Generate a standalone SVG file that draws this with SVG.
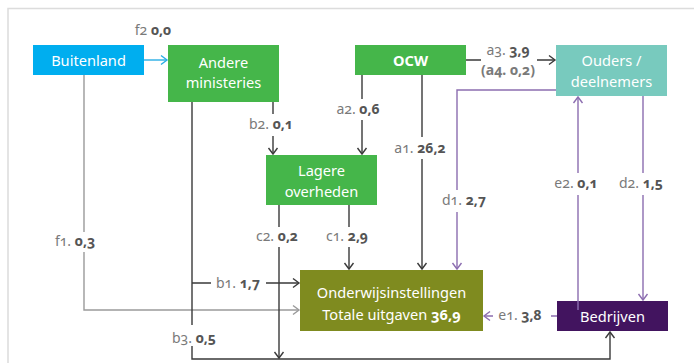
<svg xmlns="http://www.w3.org/2000/svg" width="694" height="363" viewBox="0 0 694 363">
<defs>
<style>
.frame{fill:none;stroke:#dcdcdc;stroke-width:1.5}
.n{font-family:"Noto Sans","Open Sans",sans-serif;font-size:14.6px;text-anchor:middle;fill:#fff;font-variant-numeric:oldstyle-nums}
.lb{font-family:"Noto Sans","Open Sans",sans-serif;font-size:14px;fill:#7a7a7a;text-anchor:middle;font-variant-numeric:oldstyle-nums}
.lb tspan.v{font-weight:bold;fill:#555}
.dk{fill:none;stroke:#3a3a3a;stroke-width:1.4}
.gr{fill:none;stroke:#9a9a9a;stroke-width:1.4}
.bl{fill:none;stroke:#29aee6;stroke-width:1.4}
.pu{fill:none;stroke:#8c6db0;stroke-width:1.4}
</style>
<marker id="mdk" viewBox="-8 -6 10 12" markerWidth="10" markerHeight="12" refX="0" refY="0" orient="auto" markerUnits="userSpaceOnUse"><path d="M-6,-4.5 L0,0 L-6,4.5" fill="none" stroke="#3a3a3a" stroke-width="1.4"/></marker>
<marker id="mgr" viewBox="-8 -6 10 12" markerWidth="10" markerHeight="12" refX="0" refY="0" orient="auto" markerUnits="userSpaceOnUse"><path d="M-6,-4.5 L0,0 L-6,4.5" fill="none" stroke="#9a9a9a" stroke-width="1.4"/></marker>
<marker id="mbl" viewBox="-8 -6 10 12" markerWidth="10" markerHeight="12" refX="0" refY="0" orient="auto" markerUnits="userSpaceOnUse"><path d="M-6,-4.5 L0,0 L-6,4.5" fill="none" stroke="#29aee6" stroke-width="1.4"/></marker>
<marker id="mpu" viewBox="-8 -6 10 12" markerWidth="10" markerHeight="12" refX="0" refY="0" orient="auto" markerUnits="userSpaceOnUse"><path d="M-6,-4.5 L0,0 L-6,4.5" fill="none" stroke="#8c6db0" stroke-width="1.4"/></marker>
</defs>
<rect width="694" height="363" fill="#fff"/>
<path class="frame" d="M8,363 V8.5 H694"/>

<g id="buitenland"><rect x="33" y="45" width="111" height="30" fill="#00aeef"/><text class="n" x="88.5" y="66">Buitenland</text></g>
<g id="andere-ministeries"><rect x="168" y="45" width="111" height="57" fill="#45b64a"/><text class="n" x="223.5" y="68">Andere</text><text class="n" x="223.5" y="88">ministeries</text></g>
<g id="ocw"><rect x="355" y="45" width="111" height="30" fill="#45b64a"/><text class="n" x="410.5" y="66" font-weight="bold">OCW</text></g>
<g id="ouders"><rect x="556" y="45" width="111" height="51" fill="#78cabe"/><text class="n" x="611.5" y="66" fill="#333">Ouders /</text><text class="n" x="611.5" y="87" fill="#333">deelnemers</text></g>
<g id="lagere-overheden"><rect x="266" y="155" width="111" height="50" fill="#45b64a"/><text class="n" x="321.5" y="176">Lagere</text><text class="n" x="321.5" y="197">overheden</text></g>
<g id="onderwijsinstellingen"><rect x="300" y="270" width="183" height="61" fill="#7f8b1f"/><text class="n" x="391.5" y="298" fill="#f3f3e0">Onderwijsinstellingen</text><text class="n" x="391.5" y="320" fill="#f3f3e0">Totale uitgaven <tspan font-weight="bold">36,9</tspan></text></g>
<g id="bedrijven"><rect x="557" y="301" width="111" height="30" fill="#42145f"/><text class="n" x="612.5" y="322">Bedrijven</text></g>

<g id="connectors">
<path class="bl" d="M144,60 H167" marker-end="url(#mbl)"/>
<text class="lb" x="153" y="35">f2 <tspan class="v">0,0</tspan></text>
<path class="gr" d="M84,75 V232 M84,252 V310 H299" marker-end="url(#mgr)"/>
<text class="lb" x="75" y="246">f1. <tspan class="v">0,3</tspan></text>
<path class="dk" d="M192,102 V325 M192,346 V359 H610 V332" marker-end="url(#mdk)"/>
<text class="lb" x="194" y="343">b3. <tspan class="v">0,5</tspan></text>
<path class="dk" d="M192,283 H211 M266,283 H299" marker-end="url(#mdk)"/>
<text class="lb" x="238" y="288">b1. <tspan class="v">1,7</tspan></text>
<path class="dk" d="M273,102 V114 M273,136 V154" marker-end="url(#mdk)"/>
<text class="lb" x="271" y="129">b2. <tspan class="v">0,1</tspan></text>
<path class="dk" d="M362,75 V99 M362,120 V154" marker-end="url(#mdk)"/>
<text class="lb" x="358" y="114">a2. <tspan class="v">0,6</tspan></text>
<path class="dk" d="M422,75 V137 M422,159 V269" marker-end="url(#mdk)"/>
<text class="lb" x="420" y="153">a1. <tspan class="v">26,2</tspan></text>
<path class="dk" d="M466,60 H481 M537,60 H555" marker-end="url(#mdk)"/>
<text class="lb" x="508" y="55">a3. <tspan class="v">3,9</tspan></text>
<text class="lb" x="508" y="75" font-weight="bold" fill="#666">(a4. 0,2)</text>
<path class="dk" d="M279,205 V227 M279,247 V358" marker-end="url(#mdk)"/>
<text class="lb" x="277" y="241">c2. <tspan class="v">0,2</tspan></text>
<path class="dk" d="M349,205 V227 M349,247 V269" marker-end="url(#mdk)"/>
<text class="lb" x="347" y="241">c1. <tspan class="v">2,9</tspan></text>
<path class="pu" d="M556,90 H457 V190 M457,212 V269" marker-end="url(#mpu)"/>
<text class="lb" x="464" y="205">d1. <tspan class="v">2,7</tspan></text>
<path class="pu" d="M578,310 V195 M578,173 V97" marker-end="url(#mpu)"/>
<text class="lb" x="576" y="188">e2. <tspan class="v">0,1</tspan></text>
<path class="pu" d="M643,96 V173 M643,195 V300" marker-end="url(#mpu)"/>
<text class="lb" x="641" y="188">d2. <tspan class="v">1,5</tspan></text>
<path class="pu" d="M557,316 H551 M493,316 H484" marker-end="url(#mpu)"/>
<text class="lb" x="520" y="320">e1. <tspan class="v">3,8</tspan></text>
</g>
</svg>
